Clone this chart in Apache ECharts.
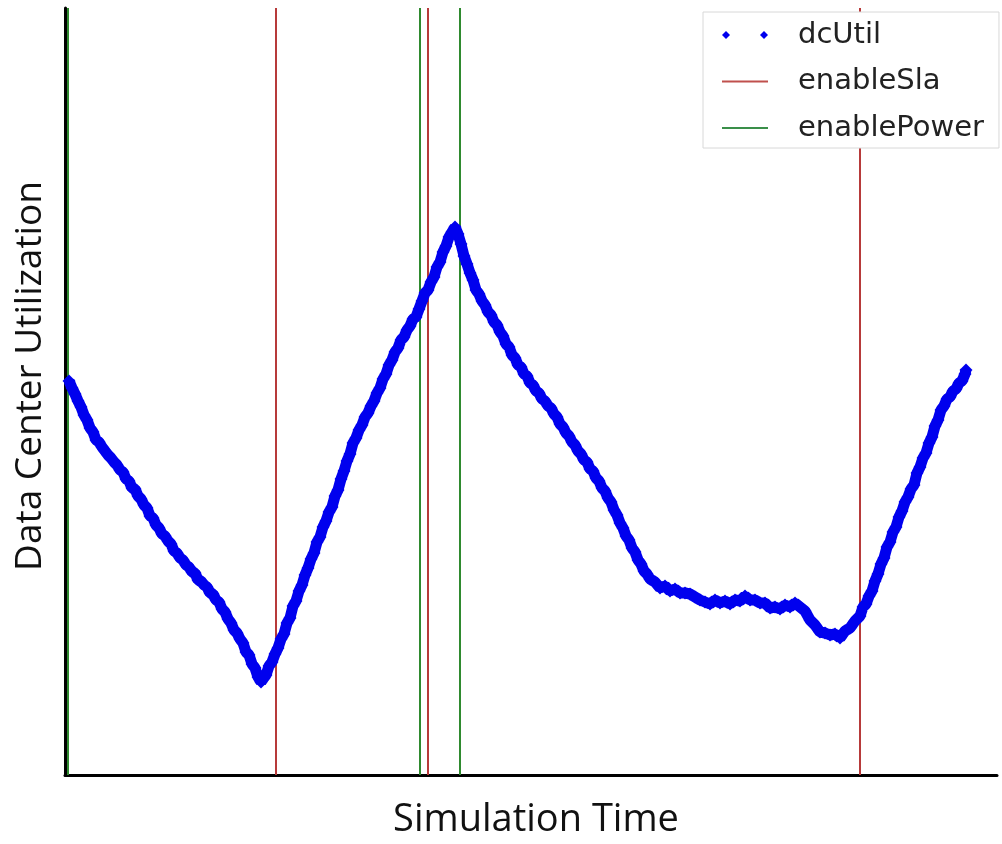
<!DOCTYPE html>
<html>
<head>
<meta charset="utf-8">
<script src="https://cdn.jsdelivr.net/npm/echarts@6/dist/echarts.min.js"></script>
<style>
html,body{margin:0;padding:0;background:#fff;}
#chart{width:1002px;height:844px;}
</style>
</head>
<body>
<div id="chart"></div>
<script>
// Simulation time (arbitrary units)
const simTime = [4,7,10,13,16,19,22,25,28,31,34,37,40,43,46,49,52,55,58,61,64,67,70,73,76,79,82,85,88,91,94,97,100,103,106,109,112,115,118,121,124,127,130,133,136,139,142,145,148,151,154,157,160,163,166,169,172,175,178,181,184,187,190,193,196,198,201,204,207,210,213,216,219,222,225,228,231,234,237,240,243,246,249,252,255,258,261,264,267,270,273,276,279,282,285,288,291,294,297,300,303,306,309,312,315,318,321,324,327,330,333,336,339,342,345,348,351,354,357,360,363,366,369,372,375,378,381,384,387,390,393,396,399,402,405,408,411,414,417,420,423,426,429,432,435,438,441,444,447,450,453,456,459,462,465,468,471,474,477,480,483,486,489,492,495,498,501,504,507,510,513,516,519,522,525,528,531,534,537,540,543,546,549,552,555,558,561,564,567,570,573,576,579,582,585,590,595,600,605,610,615,620,625,630,635,640,645,650,655,660,665,670,675,680,685,690,695,700,705,710,715,720,725,730,735,740,745,750,755,760,765,770,775,780,785,790,795,798,801,804,807,810,813,816,819,822,825,828,831,834,837,840,843,846,849,852,855,858,861,864,867,870,873,876,879,882,885,888,891,894,897,900,901];
// Data center utilization (arbitrary units)
const dcUtil = [394,387,381,374,368,360,355,347,343,335,333,328,324,320,317,313,310,305,303,296,294,287,286,279,276,270,267,259,257,250,247,241,239,234,231,224,222,217,215,210,208,203,202,195,194,190,188,182,181,175,173,166,163,156,152,145,142,136,132,123,120,111,107,98,93,96,100,109,113,121,127,136,141,152,157,169,174,184,190,200,207,216,222,233,238,248,254,263,268,279,285,296,304,314,321,332,337,345,350,358,362,369,374,382,387,396,401,410,415,423,427,435,438,445,449,456,458,466,474,482,485,493,498,508,513,523,529,538,543,548,541,531,519,511,502,495,485,481,474,470,463,460,453,450,443,439,431,428,420,417,410,408,401,399,392,390,384,382,376,374,369,367,361,358,351,348,342,339,333,330,324,321,315,313,306,304,297,294,287,284,277,273,265,260,252,247,239,235,227,223,215,211,204,201,196,193,187,189,184,186,182,182,181,178,175,173,171,175,172,174,171,175,174,179,175,175,172,172,167,168,166,170,168,172,168,164,155,150,143,142,140,141,137,144,147,154,159,168,171,179,184,194,201,211,217,228,233,243,248,258,264,273,278,286,290,302,308,317,322,332,338,349,355,365,369,376,378,384,386,392,394,401,405,410];
// Event times (vertical markers)
const enableSlaTimes = [211, 363, 795];
const enablePowerTimes = [3, 355, 395];
const seriesNames = ['dcUtil', 'enableSla', 'enablePower'];

const X_MAX = 932, Y_MAX = 767;

function vlines(times) {
  const out = [];
  times.forEach(t => { out.push([t, 0]); out.push([t, Y_MAX]); out.push([t, '-']); });
  return out;
}

const chart = echarts.init(document.getElementById('chart'), null, {renderer: 'canvas'});
chart.setOption({
  animation: false,
  backgroundColor: '#ffffff',
  grid: {left: 65, right: 5, top: 8, bottom: 69},
  xAxis: {
    type: 'value', min: 0, max: X_MAX,
    axisLine: {show: true, onZero: false, lineStyle: {color: '#000', width: 3}},
    axisTick: {show: false}, axisLabel: {show: false}, splitLine: {show: false}
  },
  yAxis: {
    type: 'value', min: 0, max: Y_MAX,
    axisLine: {show: true, onZero: false, lineStyle: {color: '#000', width: 3}},
    axisTick: {show: false}, axisLabel: {show: false}, splitLine: {show: false}
  },
  legend: {
    orient: 'vertical',
    left: 703, top: 12,
    padding: [7, 15, 4, 19],
    itemGap: 14.5,
    itemWidth: 46, itemHeight: 8,
    symbolKeepAspect: true,
    borderColor: '#d8d8d8', borderWidth: 1,
    backgroundColor: '#ffffff',
    textStyle: {fontFamily: 'DejaVu Sans', fontSize: 29, color: '#222', lineHeight: 32, padding: [0, 0, 0, 25]},
    data: [
      {name: seriesNames[0], icon: 'path://M0,4L4,0L8,4L4,8Z M38,4L42,0L46,4L42,8Z', itemStyle: {color: '#0000ee'}},
      {name: seriesNames[1], icon: 'path://M0,0H46V2H0Z', itemStyle: {color: '#c0504d'}},
      {name: seriesNames[2], icon: 'path://M0,0H46V2H0Z', itemStyle: {color: '#3a8f4a'}}
    ]
  },
  graphic: [
    {type: 'text', x: 536, y: 820, style: {text: 'Simulation Time', font: '38px "Open Sans"', fill: '#111', textAlign: 'center', textVerticalAlign: 'middle'}},
    {type: 'text', x: 30, y: 376, rotation: Math.PI / 2, style: {text: 'Data Center Utilization', font: '37px "Open Sans"', fill: '#111', textAlign: 'center', textVerticalAlign: 'middle'}}
  ],
  series: [
    {
      name: seriesNames[0], type: 'line',
      data: simTime.map((t, i) => [t, dcUtil[i]]),
      symbol: 'diamond', symbolSize: 13, showSymbol: true, showAllSymbol: true,
      itemStyle: {color: '#0000ee'},
      lineStyle: {color: '#0000ee', width: 11},
      z: 3
    },
    {
      name: seriesNames[1], type: 'line', data: vlines(enableSlaTimes),
      symbol: 'none', connectNulls: false,
      itemStyle: {color: '#b73a3a'}, lineStyle: {color: '#b73a3a', width: 2}, z: 2
    },
    {
      name: seriesNames[2], type: 'line', data: vlines(enablePowerTimes),
      symbol: 'none', connectNulls: false,
      itemStyle: {color: '#2f8a2f'}, lineStyle: {color: '#2f8a2f', width: 2}, z: 2
    }
  ]
});
</script>
</body>
</html>
